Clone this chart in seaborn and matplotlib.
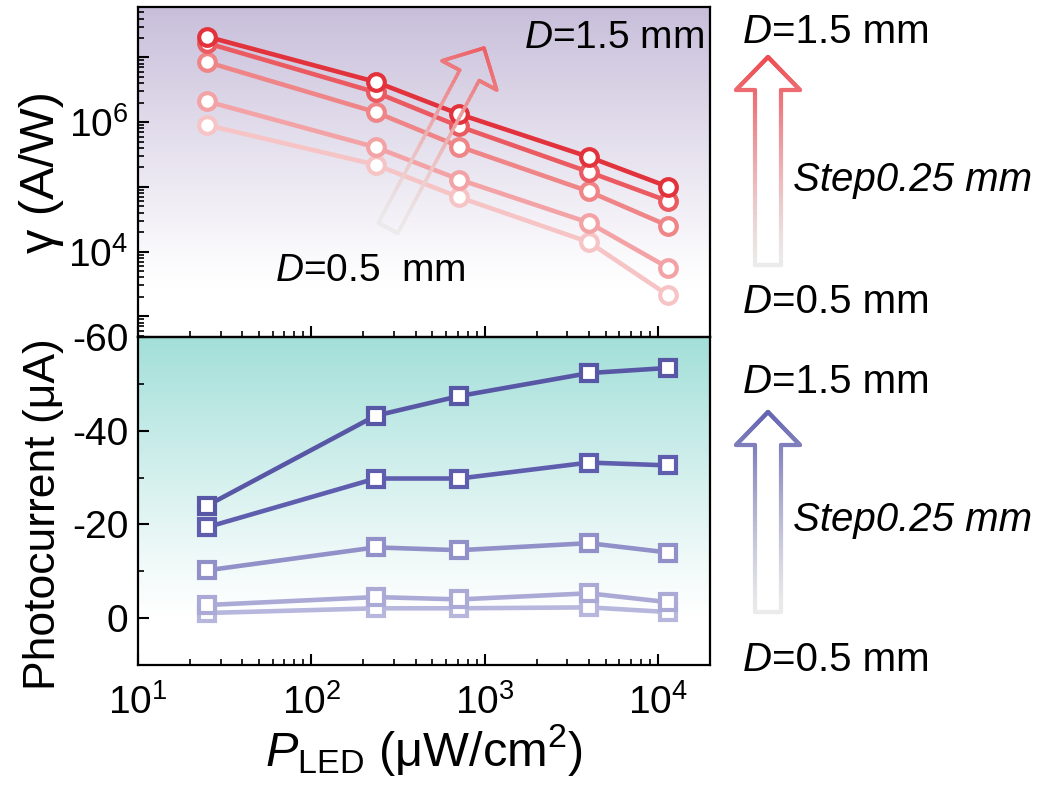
import numpy as np
import pandas as pd
import matplotlib
matplotlib.use("Agg")
import matplotlib.pyplot as plt
from matplotlib import ticker
from matplotlib.colors import to_rgb
from matplotlib.collections import LineCollection
from matplotlib.offsetbox import TextArea, HPacker, AnnotationBbox
import seaborn as sns

# light power (uW/cm2)
power = [25, 235, 715, 4000, 11500]
d_values = ["0.5", "0.75", "1.0", "1.25", "1.5"]

# responsivity gamma (A/W), one list per D
gamma_05 = [9.0e5, 2.2e5, 6.9e4, 1.4e4, 2.1e3]
gamma_075 = [2.1e6, 4.1e5, 1.3e5, 2.8e4, 5.6e3]
gamma_10 = [8.5e6, 1.43e6, 4.2e5, 8.5e4, 2.5e4]
gamma_125 = [1.67e7, 2.9e6, 8.6e5, 1.7e5, 6.0e4]
gamma_15 = [2.1e7, 4.2e6, 1.33e6, 2.9e5, 1.0e5]

# photocurrent (uA), one list per D
ipc_05 = [-1.1, -2.1, -2.1, -2.3, -1.3]
ipc_075 = [-2.8, -4.5, -4.0, -5.3, -3.4]
ipc_10 = [-10.2, -15.1, -14.5, -16.0, -14.0]
ipc_125 = [-19.4, -29.8, -29.8, -33.2, -32.6]
ipc_15 = [-24.0, -43.2, -47.4, -52.3, -53.4]

x_ticks = [10, 100, 1000, 10000]
x_ticklabels = ["$10^{1}$", "$10^{2}$", "$10^{3}$", "$10^{4}$"]
gamma_ticks = [1e3, 1e4, 1e5, 1e6, 1e7]
gamma_ticklabels = ["", "$10^{4}$", "", "$10^{6}$", ""]
ipc_ticks = [-60, -40, -20, 0]

reds = ["#F7C4C6", "#F3A3A5", "#EF8587", "#EA5A60", "#E2323B"]
blues = ["#B7B6DD", "#ABAAD7", "#9190C8", "#5F5EAE", "#5857A6"]

gamma_df = pd.DataFrame({
    "P": power * 5,
    "D": np.repeat(d_values, len(power)),
    "gamma": gamma_05 + gamma_075 + gamma_10 + gamma_125 + gamma_15,
})
ipc_df = pd.DataFrame({
    "P": power * 5,
    "D": np.repeat(d_values, len(power)),
    "I": ipc_05 + ipc_075 + ipc_10 + ipc_125 + ipc_15,
})

sns.set_theme(style="ticks")
font = "Liberation Sans"
plt.rcParams["font.family"] = [font, "DejaVu Sans"]
plt.rcParams["mathtext.fontset"] = "custom"
plt.rcParams["mathtext.rm"] = font
plt.rcParams["mathtext.it"] = font + ":italic"
plt.rcParams["axes.unicode_minus"] = False
plt.rcParams["text.color"] = "black"
plt.rcParams["xtick.color"] = "black"
plt.rcParams["ytick.color"] = "black"
plt.rcParams["axes.labelcolor"] = "black"

fig = plt.figure(figsize=(10.41, 7.94), dpi=100)
W, H = 1041, 794
rect_top = [138 / W, 1 - 337 / H, 572 / W, 330 / H]
rect_bot = [138 / W, 1 - 665 / H, 572 / W, 328 / H]


def gradient_bg(rect, top_color):
    bg = fig.add_axes(rect, zorder=0)
    bg.axis("off")
    n = 256
    t = np.linspace(0, 1, n)[:, None]
    c0 = np.array(to_rgb(top_color))
    w = np.clip(1 - t / 0.85, 0, 1) ** 1.1
    img = w[..., None] * c0 + (1 - w[..., None]) * np.ones(3)
    img = np.repeat(img, 2, axis=1)
    bg.imshow(img, aspect="auto", extent=[0, 1, 0, 1], origin="upper")
    bg.set_xlim(0, 1)
    bg.set_ylim(0, 1)


gradient_bg(rect_top, "#C8BEDA")
gradient_bg(rect_bot, "#A3DFD9")

ax_top = fig.add_axes(rect_top, zorder=1)
ax_bot = fig.add_axes(rect_bot, zorder=1)
for ax in (ax_top, ax_bot):
    ax.set_facecolor("none")
    ax.set_xscale("log")

ax_top.set_yscale("log")

for d, c in zip(d_values, reds):
    sns.lineplot(data=gamma_df[gamma_df["D"] == d], x="P", y="gamma", ax=ax_top,
                 color=c, lw=3.3, marker="o", ms=12, mfc="white", mec=c,
                 mew=3.0, estimator=None, legend=False)

for d, c in zip(d_values, blues):
    sns.lineplot(data=ipc_df[ipc_df["D"] == d], x="P", y="I", ax=ax_bot,
                 color=c, lw=3.3, marker="s", ms=12, mfc="white", mec=c,
                 mew=3.0, estimator=None, legend=False)

fs_tick = 28
fs_label = 32

for ax in (ax_top, ax_bot):
    ax.set_xlim(10, 2e4)
    ax.xaxis.set_major_locator(ticker.FixedLocator(x_ticks))
    ax.xaxis.set_minor_locator(ticker.LogLocator(base=10, subs=np.arange(2, 10), numticks=20))
    ax.tick_params(which="both", direction="in", top=False, right=False)
    ax.tick_params(which="major", length=8, width=1.5, labelsize=fs_tick, pad=7)
    ax.tick_params(which="minor", length=4.5, width=1.2)
    for sp in ax.spines.values():
        sp.set_color("black")
        sp.set_linewidth(1.6)

ax_top.set_xticklabels([])
ax_top.xaxis.set_minor_formatter(ticker.NullFormatter())
ax_bot.set_xticklabels(x_ticklabels)
ax_bot.xaxis.set_minor_formatter(ticker.NullFormatter())
ax_bot.tick_params(axis="x", pad=14)

ax_top.set_ylim(10 ** 2.68, 10 ** 7.78)
ax_top.yaxis.set_major_locator(ticker.FixedLocator(gamma_ticks))
ax_top.yaxis.set_major_formatter(ticker.FixedFormatter(gamma_ticklabels))
ax_top.yaxis.set_minor_locator(ticker.LogLocator(base=10, subs=np.arange(2, 10), numticks=20))
ax_top.yaxis.set_minor_formatter(ticker.NullFormatter())

ax_bot.set_ylim(10, -60)
ax_bot.yaxis.set_major_locator(ticker.FixedLocator(ipc_ticks))
ax_bot.yaxis.set_minor_locator(ticker.FixedLocator([-50, -30, -10]))

ax_top.set_xlabel("")
ax_top.set_ylabel("γ (A/W)", fontsize=35)
ax_top.yaxis.set_label_coords(-0.13, 0.5)
ax_bot.set_ylabel("Photocurrent (μA)", fontsize=fs_label)
ax_bot.yaxis.set_label_coords(-0.13, 0.46)
ax_bot.set_xlabel(r"$\mathit{P}_{\mathrm{LED}}$ (μW/cm$^{2}$)", fontsize=35, labelpad=0)

ax_top.text(0.99, 0.905, r"$\mathit{D}$=1.5 mm", transform=ax_top.transAxes,
            ha="right", va="center", fontsize=28)
ax_top.text(0.24, 0.20, r"$\mathit{D}$=0.5  mm", transform=ax_top.transAxes,
            ha="left", va="center", fontsize=28)

# overlay in pixel coordinates for the hollow arrows and side notes
ov = fig.add_axes([0, 0, 1, 1], zorder=5)
ov.set_xlim(0, W)
ov.set_ylim(H, 0)
ov.axis("off")


def hollow_arrow(tail, tip, shaft, head, head_len, color, lw, alpha=1.0):
    tail = np.array(tail, float)
    tip = np.array(tip, float)
    d = tip - tail
    L = np.hypot(*d)
    u = d / L
    v = np.array([-u[1], u[0]])
    loc = [(0, -shaft), (L - head_len, -shaft), (L - head_len, -head), (L, 0),
           (L - head_len, head), (L - head_len, shaft), (0, shaft), (0, -shaft)]
    pts = []
    for (a, b), (c, e) in zip(loc[:-1], loc[1:]):
        for s in np.linspace(0, 1, 40, endpoint=False):
            pts.append((a + (c - a) * s, b + (e - b) * s))
    pts.append(loc[-1])
    pts = np.array(pts)
    xy = tail + pts[:, :1] * u + pts[:, 1:] * v
    segs = np.stack([xy[:-1], xy[1:]], axis=1)
    t = np.clip((pts[:-1, 0] + pts[1:, 0]) / 2 / L, 0, 1)
    w = t ** 1.3
    rgb = np.array(to_rgb(color))
    cols = (1 - w)[:, None] * np.array([0.92, 0.92, 0.92]) + w[:, None] * rgb
    cols = np.column_stack([cols, np.full(len(cols), alpha)])
    lc = LineCollection(segs, colors=cols, linewidths=lw, capstyle="round",
                        joinstyle="round")
    ov.add_collection(lc)


hollow_arrow((388, 228), (484, 48), 11, 31, 31, "#EE5F63", 2.6, alpha=0.9)
hollow_arrow((768, 265), (768, 57), 13, 32, 33, "#EE4B52", 3.0)
hollow_arrow((768, 612), (768, 412), 13, 32, 33, "#6463B0", 3.0)

fs_side = 29


def d_note(x, y, value):
    a = TextArea("D", textprops=dict(family=font, style="italic", size=fs_side, color="black"))
    b = TextArea("=" + value + " mm", textprops=dict(family=font, size=fs_side, color="black"))
    box = HPacker(children=[a, b], pad=0, sep=0, align="baseline")
    ab = AnnotationBbox(box, (x, y), xycoords="data", box_alignment=(0, 0.5),
                        frameon=False, pad=0)
    ov.add_artist(ab)


d_note(743, 32, "1.5")
d_note(743, 302, "0.5")
d_note(743, 382, "1.5")
d_note(743, 660, "0.5")
ov.text(793, 180, "Step0.25 mm", family=font, style="italic", size=fs_side, va="center")
ov.text(793, 520, "Step0.25 mm", family=font, style="italic", size=fs_side, va="center")

fig.savefig("out.png", dpi=100)
